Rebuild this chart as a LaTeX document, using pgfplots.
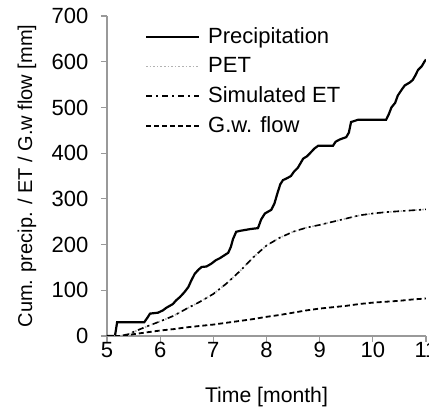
\documentclass[border=0pt]{standalone}
\usepackage{fontspec}
\setmainfont{Liberation Sans}
\usepackage{pgfplots}
\pgfplotsset{compat=1.18}
\begin{document}
\begin{tikzpicture}
\begin{axis}[
  scale only axis,
  width=159.5pt, height=160pt,
  xmin=5, xmax=11, ymin=0, ymax=700,
  xtick={5,6,7,8,9,10,11},
  ytick={0,100,200,300,400,500,600,700},
  axis lines*=left,
  axis line style={gray!80, line width=0.8pt},
  tick style={gray!80, line width=0.6pt},
  tick align=outside,
  major tick length=3pt,
  /pgf/number format/assume math mode=true,
  tick label style={font=\fontsize{11}{13}\selectfont},
  yticklabel style={xshift=-2.8pt},
  xticklabel style={yshift=3.3pt},
  label style={font=\fontsize{10.6}{13}\selectfont},
  xlabel={Time [month]},
  ylabel={Cum. precip. / ET / G.w flow [mm]},
  xlabel style={at={(axis description cs:0.5,-0.19)}, anchor=center},
  ylabel style={at={(axis description cs:-0.251,0.5)}, anchor=center, font=\fontsize{10}{12}\selectfont},
  legend style={at={(0.099,0.99)}, anchor=north west, draw=none, fill=none,
    font=\fontsize{11}{13}\selectfont, row sep=1.5pt},
  legend cell align=left,
  legend image code/.code={\draw[#1] (0pt,0pt) -- (26.5pt,0pt); \path (28.5pt,0pt);},
]
\coordinate (bl) at (axis cs:5,0);
\addplot[black, line width=1.1pt] coordinates {
(5.0,0) (5.15,0) (5.19,30) (5.70,30) (5.76,40) (5.81,49) (5.96,51) (6.05,56)
(6.12,62) (6.24,70) (6.30,78) (6.37,85) (6.45,95) (6.53,107) (6.58,120)
(6.65,136) (6.72,145) (6.78,151) (6.87,152) (6.96,158) (7.05,166) (7.12,170)
(7.20,176) (7.28,182) (7.33,195) (7.37,212) (7.43,228) (7.50,230) (7.60,232)
(7.70,234) (7.84,236) (7.90,255) (7.97,268) (8.09,276) (8.15,290) (8.21,314)
(8.26,332) (8.31,341) (8.40,346) (8.46,350) (8.52,360) (8.59,368) (8.64,378)
(8.69,388) (8.76,393) (8.82,400) (8.90,410) (8.97,416) (9.25,416) (9.30,425)
(9.38,430) (9.50,435) (9.55,445) (9.59,468) (9.72,473) (10.25,473) (10.30,485)
(10.35,500) (10.42,510) (10.47,526) (10.55,540) (10.60,548) (10.70,555)
(10.75,560) (10.80,570) (10.85,582) (10.92,590) (10.97,600) (11.0,605)
};
\addlegendentry{Precipitation}
\addplot[gray!60, line width=0.8pt, densely dotted] coordinates {
(5.0,0) (5.25,0) (5.4,4) (5.5,9) (5.75,21) (6.0,32) (6.25,44) (6.5,60)
(6.75,75) (7.0,92) (7.25,115) (7.5,142) (7.75,172) (8.0,198) (8.25,215)
(8.5,228) (8.75,237) (9.0,243) (9.25,250) (9.5,257) (9.75,264) (10.0,268)
(10.25,271) (10.5,273) (10.75,275) (11.0,277)
};
\addlegendentry{PET}
\addplot[black, line width=0.8pt, dash pattern=on 3pt off 2pt on 1pt off 2pt] coordinates {
(5.0,0) (5.25,0) (5.4,4) (5.5,9) (5.75,21) (6.0,32) (6.25,44) (6.5,60)
(6.75,75) (7.0,92) (7.25,115) (7.5,142) (7.75,172) (8.0,198) (8.25,215)
(8.5,228) (8.75,237) (9.0,243) (9.25,250) (9.5,257) (9.75,264) (10.0,268)
(10.25,271) (10.5,273) (10.75,275) (11.0,277)
};
\addlegendentry{Simulated ET}
\addplot[black, line width=0.9pt, dash pattern=on 2.5pt off 1.5pt] coordinates {
(5.0,0) (5.3,0) (5.5,4) (5.75,8) (6.0,12) (6.25,15) (6.5,19) (6.75,22)
(7.0,25) (7.25,29) (7.5,33) (7.75,37) (8.0,42) (8.25,46) (8.5,51) (8.75,56)
(9.0,60) (9.25,63) (9.5,66) (9.75,70) (10.0,73) (10.25,75) (10.5,77)
(10.75,80) (11.0,82)
};
\addlegendentry{G.w. flow}
\end{axis}
\pgfresetboundingbox
\path[use as bounding box] ([shift={(-53.5pt,-35.5pt)}]bl) rectangle ([shift={(161pt,168pt)}]bl);
\end{tikzpicture}
\end{document}
